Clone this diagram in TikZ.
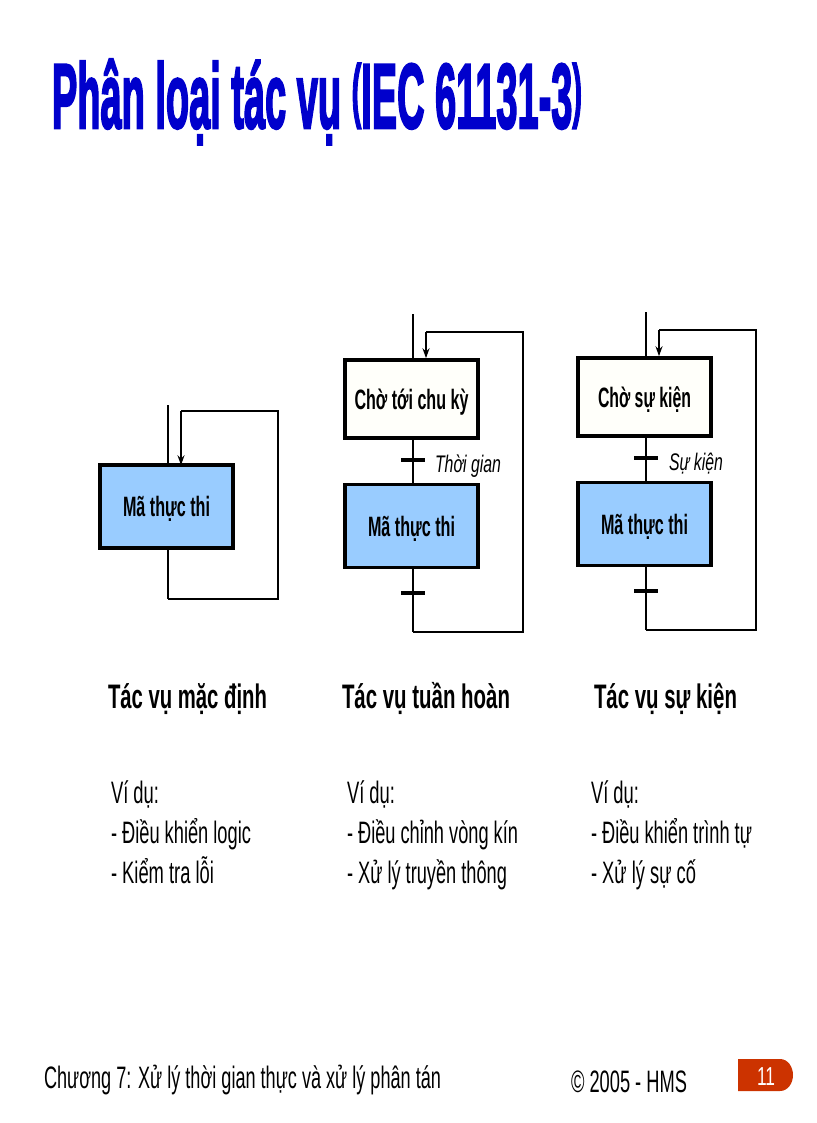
\documentclass[tikz,border=0pt]{standalone}
\usepackage{fontspec}
\setmainfont{Liberation Sans}
\newfontfamily\titlefont[FakeBold=3]{Liberation Sans Bold}
\usetikzlibrary{arrows.meta}
\definecolor{codeblue}{HTML}{99CCFF}
\definecolor{titleblue}{HTML}{0000CC}
\definecolor{badgered}{HTML}{CC3300}
\definecolor{waitfill}{HTML}{FFFFFA}
\newcommand{\fit}[3]{\resizebox{#1pt}{\height}{\fontsize{#2}{#2}\selectfont #3}}
\newcommand{\boxtxt}[3]{\raisebox{0pt}[20pt][0pt]{\fit{#1}{#2}{#3}}}
\newcommand{\tparen}[1]{\raisebox{14pt}{\fontsize{70}{70}\selectfont #1}}
\tikzset{
  x=1pt,y=-1pt,
  txt/.style={inner sep=0pt,outer sep=0pt,anchor=base west,text=black},
  box/.style={draw=black,line width=3.6pt,minimum width=133pt,minimum height=83pt,inner sep=0pt},
  codebox/.style={box,fill=codeblue},
  waitbox/.style={box,fill=waitfill,minimum height=78pt},
  rail/.style={draw=black,line width=2.4pt},
  back/.style={draw=black,line width=2.8pt,line join=miter},
  tick/.style={draw=black,line width=3.5pt},
  tip/.style={-{Stealth[length=10pt,width=7pt]}}
}
\begin{document}
\begin{tikzpicture}
\useasboundingbox (0,0) rectangle (816,1123);
\node[txt,text=titleblue] (title) at (52,128) {\fit{530}{92}{\titlefont Phân loại tác vụ \tparen{(}IEC 61131-3\tparen{)}}};

% column 1
\node[codebox] (c1) at (166.5,506.5) {\boxtxt{87}{28}{\bfseries Mã thực thi}};
\coordinate (in1) at (168,405);
\coordinate (tr1) at (278,411);
\coordinate (tl1) at (181,411);
\coordinate (br1) at (278,599);
\coordinate (bl1) at (168,599);
\draw[rail] (in1) -- (in1 |- c1.north);
\draw[rail] (bl1 |- c1.south) -- (bl1);
\draw[back] (bl1) -- (br1) -- (tr1) -- (tl1);
\draw[rail,tip] (tl1) -- ([yshift=-2pt]tl1 |- c1.north);

% column 2
\node[waitbox] (w2) at (411.5,399) {\boxtxt{114}{28}{\bfseries Chờ tới chu kỳ}};
\node[codebox] (c2) at (411.5,526) {\boxtxt{87}{28}{\bfseries Mã thực thi}};
\coordinate (in2) at (413,314);
\coordinate (tr2) at (523,332);
\coordinate (tl2) at (426,332);
\coordinate (br2) at (523,632);
\coordinate (bl2) at (413,632);
\coordinate (t2a) at (413,460);
\coordinate (t2b) at (413,593);
\draw[rail] (in2) -- (in2 |- w2.north);
\draw[rail] (in2 |- w2.south) -- (in2 |- c2.north);
\draw[rail] (bl2 |- c2.south) -- (bl2);
\draw[tick] ([xshift=-12pt]t2a) -- ([xshift=12pt]t2a);
\draw[tick] ([xshift=-12pt]t2b) -- ([xshift=12pt]t2b);
\draw[back] (bl2) -- (br2) -- (tr2) -- (tl2);
\draw[rail,tip] (tl2) -- (tl2 |- w2.north);
\node[txt] (l2) at (435,472) {\fit{66}{24}{\itshape Thời gian}};

% column 3
\node[waitbox] (w3) at (644.5,397) {\boxtxt{93}{28}{\bfseries Chờ sự kiện}};
\node[codebox] (c3) at (644.5,524) {\boxtxt{87}{28}{\bfseries Mã thực thi}};
\coordinate (in3) at (646,312);
\coordinate (tr3) at (756,330);
\coordinate (tl3) at (659,330);
\coordinate (br3) at (756,630);
\coordinate (bl3) at (646,630);
\coordinate (t3a) at (646,458);
\coordinate (t3b) at (646,591);
\draw[rail] (in3) -- (in3 |- w3.north);
\draw[rail] (in3 |- w3.south) -- (in3 |- c3.north);
\draw[rail] (bl3 |- c3.south) -- (bl3);
\draw[tick] ([xshift=-12pt]t3a) -- ([xshift=12pt]t3a);
\draw[tick] ([xshift=-12pt]t3b) -- ([xshift=12pt]t3b);
\draw[back] (bl3) -- (br3) -- (tr3) -- (tl3);
\draw[rail,tip] (tl3) -- (tl3 |- w3.north);
\node[txt] (l3) at (669,470) {\fit{54}{24}{\itshape Sự kiện}};

% headings
\node[txt] (h1) at (108,708) {\fit{159}{34}{\bfseries Tác vụ mặc định}};
\node[txt] (h2) at (342,708) {\fit{168}{34}{\bfseries Tác vụ tuần hoàn}};
\node[txt] (h3) at (594,708) {\fit{143}{34}{\bfseries Tác vụ sự kiện}};

% lists
\node[txt] (a1) at (111,803) {\fit{48}{31}{Ví dụ:}};
\node[txt] (a2) at (111,843) {\fit{140}{31}{- Điều khiển logic}};
\node[txt] (a3) at (111,883) {\fit{103}{31}{- Kiểm tra lỗi}};
\node[txt] (b1) at (347,803) {\fit{48}{31}{Ví dụ:}};
\node[txt] (b2) at (347,843) {\fit{171}{31}{- Điều chỉnh vòng kín}};
\node[txt] (b3) at (347,883) {\fit{160}{31}{- Xử lý truyền thông}};
\node[txt] (d1) at (591,803) {\fit{48}{31}{Ví dụ:}};
\node[txt] (d2) at (591,843) {\fit{161}{31}{- Điều khiển trình tự}};
\node[txt] (d3) at (591,883) {\fit{105}{31}{- Xử lý sự cố}};

% footer
\node[txt] (f1) at (44,1088) {\fit{397}{31}{Chương 7: Xử lý thời gian thực và xử lý phân tán}};
\node[txt] (f2) at (571,1092) {\fit{116}{31}{© 2005 - HMS}};
\fill[badgered] (738,1059) -- (780,1059) .. controls (788,1059) and (793,1067) .. (793,1075) .. controls (793,1083) and (788,1091) .. (780,1091) -- (738,1091) -- cycle;
\node[txt,text=white] (pg) at (757,1085) {\fit{18}{26}{11}};
\end{tikzpicture}
\end{document}
